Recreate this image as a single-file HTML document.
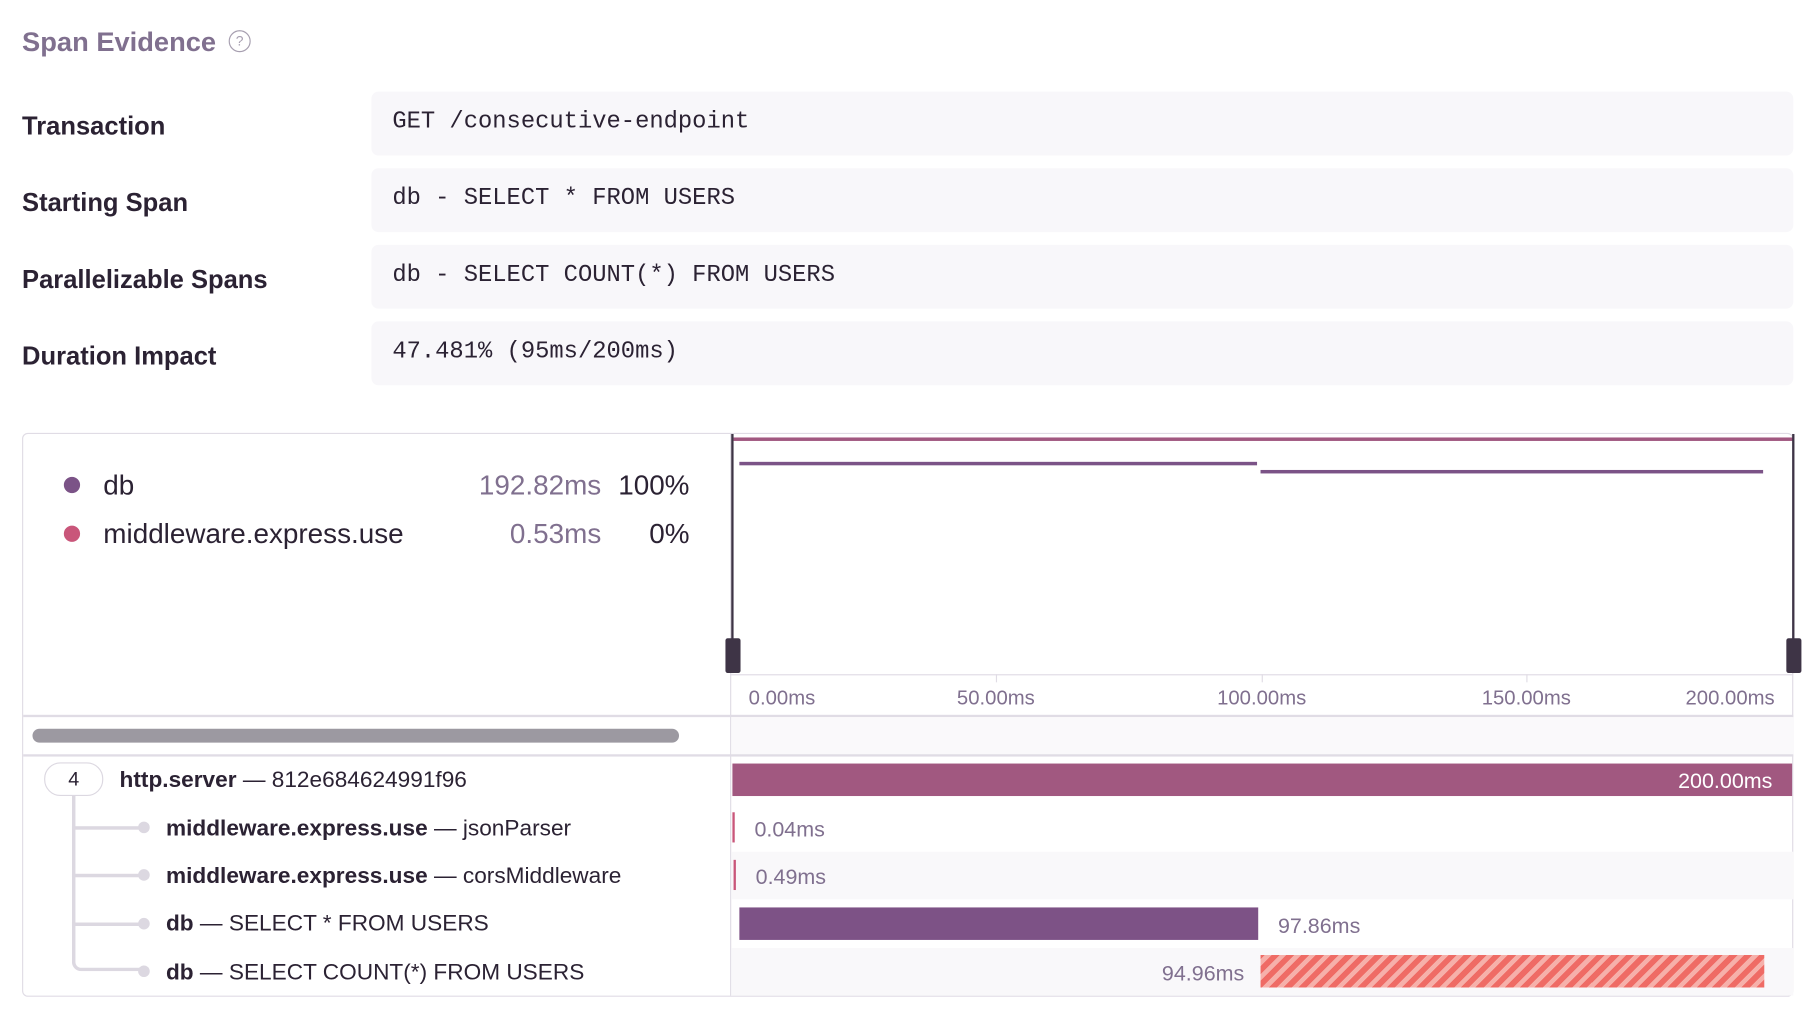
<!DOCTYPE html>
<html><head><meta charset="utf-8"><style>
html,body{margin:0;padding:0;background:#fff;width:1820px;height:1020px;overflow:hidden}
#w{position:absolute;left:0;top:0;width:1568px;height:879px;transform-origin:0 0;transform:scale(1.16071,1.1604);font-family:"Liberation Sans",sans-serif;color:#2b2233}
.a{position:absolute;white-space:nowrap}
.lab{font-weight:bold;font-size:22px;left:19px}
.box{position:absolute;left:320px;width:1225px;height:55px;background:#f8f7fa;border-radius:6px}
.box span{position:absolute;left:18px;top:15px;font-family:"Liberation Mono",monospace;font-size:20.5px;color:#2b2233}
.mut{color:#80708f}
.hl{position:absolute;background:#e0dce5}
</style></head><body><div id="w">
<div class="a" style="left:19px;top:23px;font-size:23.5px;font-weight:bold;color:#80708f">Span Evidence</div>
<div class="a" style="left:197px;top:26px;width:17px;height:17px;border:1.5px solid #a79fb0;border-radius:50%;font-size:12px;color:#a79fb0;text-align:center;line-height:17px">?</div>

<div class="a lab" style="top:96px">Transaction</div>
<div class="box" style="top:79px"><span>GET /consecutive-endpoint</span></div>
<div class="a lab" style="top:162px">Starting Span</div>
<div class="box" style="top:145px"><span>db - SELECT * FROM USERS</span></div>
<div class="a lab" style="top:228px">Parallelizable Spans</div>
<div class="box" style="top:211px"><span>db - SELECT COUNT(*) FROM USERS</span></div>
<div class="a lab" style="top:294px">Duration Impact</div>
<div class="box" style="top:277px"><span>47.481% (95ms/200ms)</span></div>

<div class="a" style="left:19px;top:373px;width:1524px;height:484px;border:1px solid #e0dce5;border-radius:5px"></div>
<div class="a" style="left:55px;top:411px;width:14px;height:14px;border-radius:50%;background:#7b5387"></div>
<div class="a" style="left:55px;top:453px;width:14px;height:14px;border-radius:50%;background:#c9567a"></div>
<div class="a" style="left:89px;top:405px;font-size:24px">db</div>
<div class="a" style="left:89px;top:447px;font-size:24px">middleware.express.use</div>
<div class="a mut" style="right:1050px;top:405px;font-size:24px">192.82ms</div>
<div class="a mut" style="right:1050px;top:447px;font-size:24px">0.53ms</div>
<div class="a" style="right:974px;top:405px;font-size:24px">100%</div>
<div class="a" style="right:974px;top:447px;font-size:24px">0%</div>

<div class="hl" style="left:629px;top:374px;width:1px;height:484px"></div>
<div class="a" style="left:632px;top:377px;width:913px;height:3px;background:#a15880"></div>
<div class="a" style="left:637px;top:398px;width:446px;height:3px;background:#7b5387"></div>
<div class="a" style="left:1086px;top:405px;width:433px;height:3px;background:#7b5387"></div>
<div class="a" style="left:630px;top:374px;width:2px;height:206px;background:#3e3446"></div>
<div class="a" style="left:625px;top:550px;width:13px;height:30px;background:#3e3446;border-radius:2px"></div>
<div class="a" style="left:1544px;top:374px;width:2px;height:206px;background:#3e3446"></div>
<div class="a" style="left:1539px;top:550px;width:13px;height:30px;background:#3e3446;border-radius:2px"></div>
<div class="hl" style="left:629px;top:581px;width:916px;height:1px"></div>
<div class="hl" style="left:858px;top:581px;width:1px;height:7px"></div>
<div class="hl" style="left:1087px;top:581px;width:1px;height:7px"></div>
<div class="hl" style="left:1315px;top:581px;width:1px;height:7px"></div>
<div class="a mut" style="left:645px;top:591px;font-size:17.5px">0.00ms</div>
<div class="a mut" style="left:808px;width:100px;text-align:center;top:591px;font-size:17.5px">50.00ms</div>
<div class="a mut" style="left:1037px;width:100px;text-align:center;top:591px;font-size:17.5px">100.00ms</div>
<div class="a mut" style="left:1265px;width:100px;text-align:center;top:591px;font-size:17.5px">150.00ms</div>
<div class="a mut" style="right:39px;top:591px;font-size:17.5px">200.00ms</div>

<div class="hl" style="left:20px;top:616px;width:1525px;height:2px"></div>
<div class="a" style="left:630px;top:618px;width:915px;height:33px;background:#faf9fb"></div>
<div class="a" style="left:28px;top:628px;width:557px;height:12px;background:#9c99a1;border-radius:6px"></div>
<div class="hl" style="left:20px;top:650px;width:1525px;height:2px"></div>

<div class="a" style="left:630px;top:734px;width:915px;height:41px;background:#f9f8fa"></div>
<div class="a" style="left:630px;top:817px;width:915px;height:41px;background:#f9f8fa"></div>
<div class="a" style="left:631px;top:658px;width:913px;height:28px;background:#a15880"></div>
<div class="a" style="right:41px;top:662px;font-size:18.5px;color:#fff">200.00ms</div>
<div class="a" style="left:631px;top:700px;width:2px;height:26px;background:#c9567a"></div>
<div class="a mut" style="left:650px;top:704px;font-size:18.5px">0.04ms</div>
<div class="a" style="left:632px;top:741px;width:2px;height:26px;background:#c9567a"></div>
<div class="a mut" style="left:651px;top:745px;font-size:18.5px">0.49ms</div>
<div class="a" style="left:637px;top:782px;width:447px;height:28px;background:#7d5286"></div>
<div class="a mut" style="left:1101px;top:787px;font-size:18.5px">97.86ms</div>
<div class="a" style="left:1086px;top:823px;width:434px;height:28px;background:repeating-linear-gradient(-45deg,#ef6b65 0 5px,#f6b0aa 5px 9px)"></div>
<div class="a mut" style="right:496px;top:828px;font-size:18.5px">94.96ms</div>

<div class="a" style="left:62px;top:684px;width:62px;height:153px;border-left:3px solid #dcd8e1;border-bottom:3px solid #dcd8e1;border-bottom-left-radius:8px;box-sizing:border-box"></div>
<div class="hl" style="left:62px;top:712px;width:60px;height:3px;background:#dcd8e1"></div>
<div class="hl" style="left:62px;top:753px;width:60px;height:3px;background:#dcd8e1"></div>
<div class="hl" style="left:62px;top:795px;width:60px;height:3px;background:#dcd8e1"></div>
<div class="a" style="left:119px;top:708px;width:10px;height:10px;border-radius:50%;background:#dcd8e1"></div>
<div class="a" style="left:119px;top:749px;width:10px;height:10px;border-radius:50%;background:#dcd8e1"></div>
<div class="a" style="left:119px;top:791px;width:10px;height:10px;border-radius:50%;background:#dcd8e1"></div>
<div class="a" style="left:119px;top:832px;width:10px;height:10px;border-radius:50%;background:#dcd8e1"></div>
<div class="a" style="left:38px;top:657px;width:49px;height:27px;border:1.5px solid #dcd8e1;border-radius:14px;background:#fff;text-align:center;line-height:27px;font-size:17px">4</div>
<div class="a" style="left:103px;top:661px;font-size:19.5px"><b>http.server</b> — 812e684624991f96</div>
<div class="a" style="left:143px;top:703px;font-size:19.5px"><b>middleware.express.use</b> — jsonParser</div>
<div class="a" style="left:143px;top:744px;font-size:19.5px"><b>middleware.express.use</b> — corsMiddleware</div>
<div class="a" style="left:143px;top:785px;font-size:19.5px"><b>db</b> — SELECT * FROM USERS</div>
<div class="a" style="left:143px;top:827px;font-size:19.5px"><b>db</b> — SELECT COUNT(*) FROM USERS</div>
</div></body></html>
